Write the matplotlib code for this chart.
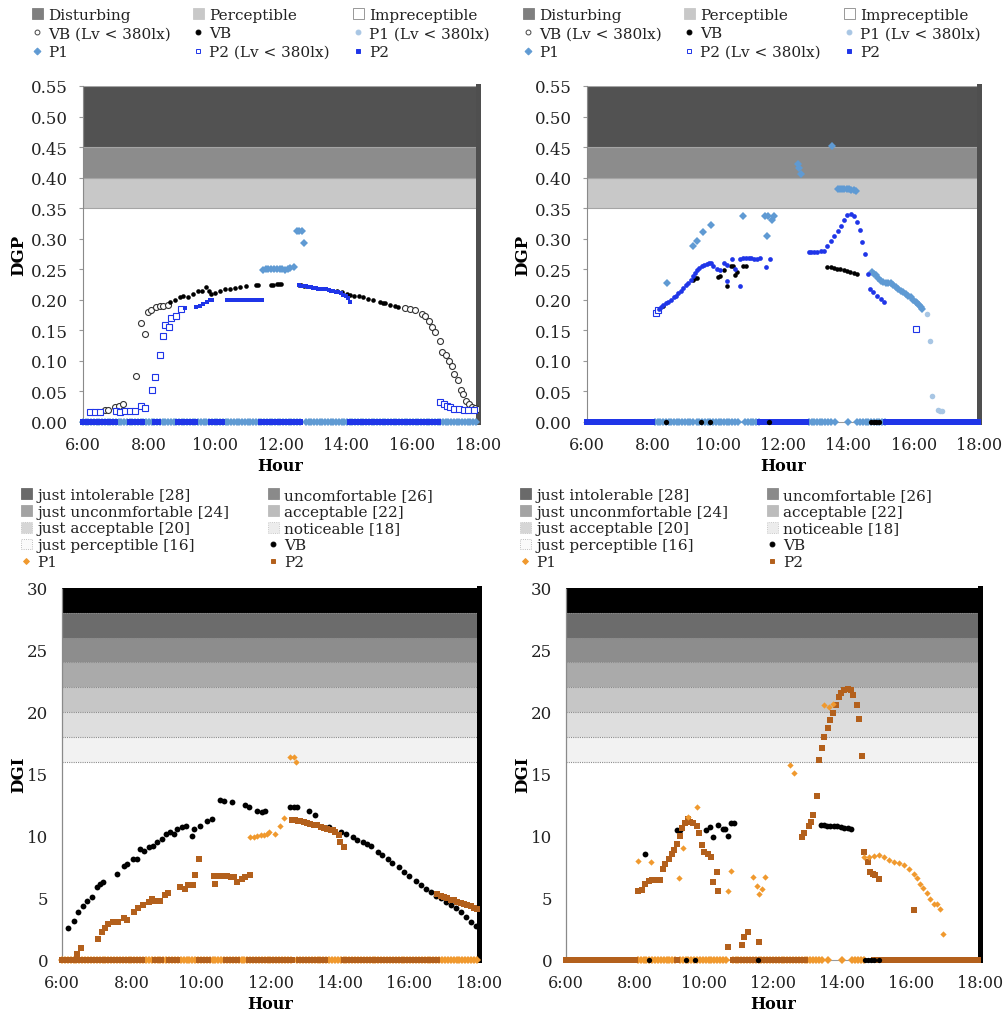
import numpy as np
import matplotlib
matplotlib.use('Agg')
import matplotlib.pyplot as plt
from matplotlib.patches import Patch
from matplotlib.lines import Line2D

plt.rcParams['font.family'] = ['DejaVu Serif']

# ---------------- common axis data ----------------
hour_ticks = [6, 8, 10, 12, 14, 16, 18]
hour_labels = ['6:00', '8:00', '10:00', '12:00', '14:00', '16:00', '18:00']
dgp_ticks = [0.00, 0.05, 0.10, 0.15, 0.20, 0.25, 0.30, 0.35, 0.40, 0.45, 0.50, 0.55]
dgi_ticks = [0, 5, 10, 15, 20, 25, 30]

dgp_band_lo = [0.35, 0.40, 0.45]
dgp_band_hi = [0.40, 0.45, 0.55]
dgi_band_lo = [16, 18, 20, 22, 24, 26, 28]
dgi_band_hi = [18, 20, 22, 24, 26, 28, 30]

# ---------------- DGP, left panel ----------------
tl_vb_dim_t = [6.66, 6.76, 6.96, 7.09, 7.22, 7.62, 7.77, 7.87, 7.98, 8.08, 8.23, 8.33, 8.43, 8.58,
               15.79, 15.94, 16.09, 16.30, 16.40, 16.50, 16.61, 16.69, 16.85, 16.92, 17.03, 17.13,
               17.20, 17.28, 17.38, 17.47, 17.54, 17.64, 17.74, 17.82, 17.90, 18.00]
tl_vb_dim_v = [0.019, 0.019, 0.025, 0.026, 0.030, 0.076, 0.162, 0.144, 0.180, 0.183, 0.188, 0.190, 0.190, 0.192,
               0.187, 0.185, 0.184, 0.177, 0.174, 0.166, 0.155, 0.147, 0.132, 0.114, 0.109, 0.100,
               0.092, 0.079, 0.068, 0.052, 0.046, 0.035, 0.030, 0.025, 0.023, 0.021]
tl_vb_t = [8.65, 8.79, 8.94, 9.04, 9.19, 9.34, 9.50, 9.60, 9.75, 9.83, 9.90, 10.00, 10.15, 10.31, 10.46,
           10.61, 10.76, 10.96, 11.27, 11.33, 11.72, 11.78, 11.88, 11.95, 12.03, 12.55, 12.62, 12.70,
           13.71, 13.86, 14.01, 14.10, 14.22, 14.37, 14.52, 14.67, 14.82, 15.02, 15.10, 15.18, 15.33,
           15.48, 15.58]
tl_vb_v = [0.196, 0.199, 0.204, 0.207, 0.204, 0.210, 0.214, 0.215, 0.221, 0.215, 0.210, 0.211, 0.215, 0.218, 0.218,
           0.220, 0.221, 0.222, 0.224, 0.224, 0.224, 0.225, 0.226, 0.226, 0.226, 0.224, 0.224, 0.223,
           0.215, 0.213, 0.210, 0.208, 0.207, 0.206, 0.205, 0.202, 0.200, 0.196, 0.195, 0.194, 0.192,
           0.190, 0.188]
tl_p1_t = [11.47, 11.55, 11.63, 11.72, 11.80, 11.88, 11.97, 12.05, 12.14, 12.22, 12.30, 12.40,
           12.50, 12.57, 12.65, 12.72]
tl_p1_v = [0.249, 0.250, 0.250, 0.250, 0.250, 0.250, 0.251, 0.250, 0.248, 0.250, 0.252, 0.254,
           0.312, 0.313, 0.313, 0.293]
tl_p2_dim_t = [6.20, 6.35, 6.51, 7.01, 7.12, 7.27, 7.42, 7.57, 7.77, 7.87, 8.11, 8.18, 8.35, 8.43,
               8.50, 8.61, 8.68, 8.84, 8.99, 16.85, 16.96, 17.06, 17.16, 17.26, 17.41, 17.56, 17.71, 17.87]
tl_p2_dim_v = [0.017, 0.017, 0.017, 0.018, 0.017, 0.018, 0.018, 0.018, 0.027, 0.023, 0.053, 0.074, 0.110, 0.140,
               0.158, 0.156, 0.171, 0.174, 0.185, 0.033, 0.030, 0.027, 0.024, 0.022, 0.021, 0.020, 0.020, 0.019]
tl_p2_t = [9.09, 9.44, 9.55, 9.65, 9.77, 9.87, 9.92,
           10.36, 10.44, 10.53, 10.61, 10.69, 10.78, 10.86, 10.94, 11.03, 11.11, 11.19, 11.28, 11.36, 11.44,
           12.55, 12.62, 12.70, 12.78, 12.85, 12.93, 13.00, 13.08, 13.15, 13.23, 13.30, 13.38, 13.46,
           13.53, 13.61, 13.68, 13.76, 13.84, 13.91, 13.98, 14.04, 14.11]
tl_p2_v = [0.186, 0.189, 0.190, 0.193, 0.196, 0.199, 0.200,
           0.200, 0.200, 0.200, 0.200, 0.200, 0.200, 0.200, 0.200, 0.200, 0.200, 0.200, 0.200, 0.200, 0.200,
           0.224, 0.223, 0.222, 0.222, 0.221, 0.221, 0.220, 0.219, 0.218, 0.218, 0.217, 0.217, 0.216,
           0.215, 0.214, 0.213, 0.212, 0.211, 0.208, 0.206, 0.203, 0.196]
tl_zero_p1 = [(6.0, 12.60), (12.77, 18.0)]
tl_zero_p2 = [(6.0, 6.46), (6.56, 7.01), (7.42, 7.52), (7.62, 7.82), (8.18, 8.33), (8.89, 9.04),
              (9.14, 9.39), (9.90, 10.31), (11.42, 12.60), (14.11, 16.85)]

# ---------------- DGP, right panel ----------------
tr_vb_t = [8.34, 9.24, 9.30, 9.36, 10.02, 10.07, 10.20, 10.28, 10.40, 10.46, 10.53, 10.60, 10.79, 10.87,
           13.36, 13.46, 13.56, 13.66, 13.76, 13.86, 13.96, 14.06, 14.16, 14.27]
tr_vb_v = [0.190, 0.233, 0.236, 0.236, 0.238, 0.239, 0.248, 0.223, 0.255, 0.255, 0.240, 0.246, 0.256, 0.256,
           0.254, 0.253, 0.252, 0.251, 0.250, 0.249, 0.247, 0.246, 0.244, 0.242]
tr_p1_t = [8.44, 9.26, 9.38, 9.54, 9.79, 10.79, 11.45, 11.52, 11.55, 11.65, 11.72, 12.45, 12.50, 12.55,
           13.51, 13.67, 13.74, 13.81, 13.88, 13.95, 14.02, 14.09, 14.16, 14.22,
           14.71, 14.78, 14.84, 14.92, 14.99, 15.07, 15.14, 15.22, 15.30, 15.37, 15.45, 15.52, 15.60,
           15.67, 15.75, 15.83, 15.91, 15.98, 16.06, 16.11, 16.16, 16.22, 16.27]
tr_p1_v = [0.227, 0.288, 0.297, 0.311, 0.322, 0.337, 0.337, 0.305, 0.337, 0.331, 0.337, 0.422, 0.415, 0.406,
           0.452, 0.381, 0.381, 0.382, 0.381, 0.381, 0.381, 0.380, 0.380, 0.378,
           0.245, 0.243, 0.240, 0.235, 0.231, 0.229, 0.228, 0.228, 0.227, 0.224, 0.221, 0.218, 0.215,
           0.212, 0.209, 0.207, 0.204, 0.200, 0.196, 0.194, 0.191, 0.188, 0.185]
tr_p1_dim_t = [16.42, 16.49, 16.57, 16.73, 16.80, 16.88]
tr_p1_dim_v = [0.176, 0.132, 0.042, 0.019, 0.018, 0.018]
tr_p2_dim_t = [8.12, 8.18, 16.08]
tr_p2_dim_v = [0.179, 0.183, 0.152]
tr_p2_t = [8.19, 8.27, 8.34, 8.42, 8.49, 8.57, 8.65, 8.72, 8.80, 8.88, 8.95, 9.03, 9.10, 9.17, 9.24,
           9.30, 9.36, 9.44, 9.51, 9.59, 9.67, 9.73, 9.79, 9.87, 9.97, 10.07, 10.20, 10.28, 10.30, 10.43,
           10.53, 10.68, 10.68, 10.79, 10.87, 10.95, 11.03, 11.11, 11.20, 11.30, 11.48, 11.60,
           12.79, 12.86, 12.95, 13.05, 13.15, 13.26, 13.36, 13.46, 13.56, 13.67, 13.77, 13.87, 13.97,
           14.08, 14.18, 14.26, 14.36, 14.43, 14.51, 14.61, 14.67, 14.77, 14.87, 14.99, 15.09]
tr_p2_v = [0.185, 0.188, 0.191, 0.194, 0.197, 0.200, 0.204, 0.207, 0.211, 0.215, 0.220, 0.224, 0.228, 0.233, 0.239,
           0.244, 0.248, 0.252, 0.256, 0.257, 0.259, 0.260, 0.260, 0.255, 0.250, 0.248, 0.261, 0.231, 0.257, 0.266,
           0.250, 0.223, 0.267, 0.268, 0.268, 0.268, 0.268, 0.267, 0.266, 0.268, 0.253, 0.266,
           0.279, 0.279, 0.279, 0.279, 0.280, 0.280, 0.288, 0.296, 0.304, 0.313, 0.321, 0.331, 0.339,
           0.340, 0.337, 0.328, 0.314, 0.295, 0.275, 0.242, 0.218, 0.212, 0.207, 0.201, 0.196]
tr_zero_p1 = [(8.08, 9.25), (9.36, 10.68), (10.84, 11.30), (12.79, 13.50), (13.60, 13.60),
              (14.00, 14.00), (14.28, 15.14)]
tr_zero_p2 = [(6.0, 8.05), (11.30, 12.79), (15.14, 18.0)]
tr_zero_vb = [(8.42, 8.42), (9.50, 9.50), (9.77, 9.77), (11.56, 11.56), (14.69, 14.94)]

# ---------------- DGI, left panel ----------------
bl_vb_t = [6.18, 6.35, 6.47, 6.61, 6.73, 6.85, 7.00, 7.08, 7.17, 7.58, 7.77, 7.86, 8.04, 8.15, 8.25,
           8.36, 8.49, 8.61, 8.73, 8.87, 9.00, 9.11, 9.21, 9.30, 9.45, 9.57, 9.74, 9.81, 9.96, 10.17,
           10.31, 10.55, 10.67, 10.89, 11.27, 11.37, 11.61, 11.75, 11.85, 12.57, 12.67, 12.76, 13.10,
           13.29, 13.69, 14.02, 14.17, 14.36, 14.50, 14.65, 14.79, 14.89, 15.08, 15.22, 15.37, 15.51,
           15.70, 15.85, 15.99, 16.18, 16.33, 16.47, 16.61, 16.76, 16.90, 17.05, 17.19, 17.34, 17.48,
           17.62, 17.77, 17.91]
bl_vb_v = [2.56, 3.17, 3.85, 4.39, 4.79, 5.06, 5.86, 6.13, 6.32, 6.94, 7.56, 7.75, 8.15, 8.15, 8.96,
           8.82, 9.09, 9.23, 9.50, 9.77, 10.17, 10.30, 10.17, 10.57, 10.71, 10.79, 10.04, 10.57, 10.84, 11.25,
           11.38, 12.94, 12.86, 12.78, 12.46, 12.32, 12.05, 11.92, 12.05, 12.32, 12.32, 12.32, 12.05,
           11.70, 10.71, 10.31, 10.17, 9.90, 9.69, 9.50, 9.37, 9.23, 8.69, 8.48, 8.16, 7.84,
           7.48, 7.13, 6.81, 6.41, 6.08, 5.73, 5.46, 5.19, 4.98, 4.71, 4.44, 4.17, 3.85,
           3.44, 3.10, 2.77]
bl_p1_t = [11.42, 11.52, 11.62, 11.72, 11.82, 11.90, 11.95, 12.14, 12.28, 12.40, 12.57, 12.67, 12.72]
bl_p1_v = [9.90, 9.95, 10.00, 10.05, 10.10, 10.17, 10.36, 10.17, 10.84, 11.43, 16.36, 16.36, 15.95]
bl_p2_t = [6.44, 6.55, 7.03, 7.14, 7.24, 7.33, 7.48, 7.62, 7.77, 7.88, 8.08, 8.20, 8.34, 8.49, 8.58,
           8.68, 8.82, 8.97, 9.06, 9.40, 9.54, 9.64, 9.78, 9.83, 9.93, 10.36, 10.41, 10.55, 10.65, 10.75,
           10.85, 10.94, 11.03, 11.18, 11.27, 11.40, 12.62, 12.70, 12.78, 12.86, 12.95, 13.05, 13.15,
           13.25, 13.35, 13.44, 13.54, 13.63, 13.73, 13.80, 13.87, 13.96, 14.01, 14.11, 16.80, 16.90,
           17.00, 17.09, 17.18, 17.28, 17.37, 17.47, 17.57, 17.66, 17.76, 17.86, 17.95]
bl_p2_v = [0.48, 0.94, 1.70, 2.29, 2.56, 2.90, 3.04, 3.04, 3.36, 3.26, 3.90, 4.17, 4.44, 4.71, 4.92,
           4.79, 4.79, 5.25, 5.41, 5.86, 5.73, 6.05, 6.05, 6.86, 8.15, 6.81, 6.13, 6.80, 6.78, 6.75,
           6.72, 6.67, 6.27, 6.54, 6.67, 6.86, 11.33, 11.28, 11.22, 11.17, 11.10, 11.05, 10.98,
           10.92, 10.85, 10.71, 10.65, 10.60, 10.52, 10.45, 10.36, 10.09, 9.50, 9.09, 5.33, 5.20,
           5.06, 4.97, 4.87, 4.80, 4.71, 4.62, 4.52, 4.43, 4.33, 4.22, 4.12]
bl_zero_p1 = [(6.0, 12.63), (12.77, 18.0)]
bl_zero_p2 = [(6.0, 6.43), (6.53, 6.96), (7.10, 7.54), (7.63, 7.78), (7.87, 8.07), (8.21, 8.35),
              (8.69, 8.88), (9.07, 9.36), (9.94, 10.27), (10.71, 11.09), (11.38, 12.63), (12.82, 13.59),
              (14.12, 16.81)]

# ---------------- DGI, right panel ----------------
br_vb_t = [8.29, 9.21, 9.29, 10.06, 10.17, 10.27, 10.40, 10.54, 10.62, 10.69, 10.78, 10.88,
           13.39, 13.48, 13.56, 13.66, 13.76, 13.86, 13.96, 14.06, 14.16, 14.26]
br_vb_v = [8.56, 10.45, 10.52, 10.52, 10.71, 9.90, 10.90, 10.57, 10.57, 9.97, 11.05, 11.05,
           10.90, 10.87, 10.84, 10.80, 10.84, 10.78, 10.72, 10.67, 10.62, 10.55]
br_p1_t = [8.10, 8.46, 9.27, 9.38, 9.53, 9.79, 10.69, 10.78, 11.43, 11.53, 11.58, 11.68, 11.77, 12.49,
           12.60, 13.49, 13.63, 13.73, 14.65, 14.79, 14.94, 15.08, 15.23, 15.37, 15.52, 15.66, 15.81,
           15.95, 16.10, 16.16, 16.26, 16.36, 16.45, 16.55, 16.68, 16.74, 16.84, 16.92]
br_p1_v = [7.98, 7.87, 6.60, 9.00, 11.50, 12.30, 5.60, 7.20, 6.73, 6.00, 5.33, 5.75, 6.67, 15.70,
           15.10, 20.58, 20.40, 20.66, 8.28, 8.28, 8.42, 8.47, 8.28, 8.10, 7.94, 7.84, 7.68,
           7.36, 6.96, 6.61, 6.16, 5.81, 5.43, 4.90, 4.55, 4.55, 4.10, 2.09]
br_p2_t = [8.08, 8.20, 8.30, 8.40, 8.49, 8.61, 8.72, 8.80, 8.88, 8.98, 9.07, 9.14, 9.21, 9.29, 9.36,
           9.46, 9.53, 9.59, 9.69, 9.79, 9.85, 9.94, 10.01, 10.11, 10.20, 10.27, 10.37, 10.42, 10.69,
           11.10, 11.17, 11.27, 11.58, 12.84, 12.91, 13.03, 13.10, 13.17, 13.27, 13.34, 13.42, 13.49,
           13.58, 13.65, 13.73, 13.83, 13.90, 13.97, 14.07, 14.16, 14.26, 14.33, 14.43, 14.50, 14.58,
           14.65, 14.74, 14.81, 14.89, 14.97, 15.08, 16.10]
br_p2_v = [5.60, 5.65, 6.13, 6.40, 6.48, 6.48, 6.48, 7.35, 7.75, 8.15, 8.55, 8.90, 9.36, 10.03, 10.62,
           11.05, 11.37, 11.10, 11.05, 10.78, 10.25, 9.31, 8.74, 8.55, 8.28, 6.32, 7.07, 5.60, 1.03,
           1.24, 1.83, 2.23, 1.43, 9.90, 10.25, 10.84, 11.16, 11.70, 13.20, 16.09, 17.08, 17.97,
           18.69, 19.37, 19.93, 20.58, 21.20, 21.55, 21.74, 21.82, 21.74, 21.39, 20.58, 19.45, 16.49,
           8.70, 7.90, 7.10, 6.96, 6.83, 6.56, 4.00]
br_zero_p1 = [(8.08, 9.22), (9.30, 10.66), (10.83, 13.45), (13.60, 13.60), (13.99, 13.99), (14.30, 14.70)]
br_zero_p2 = [(6.0, 8.08), (9.22, 9.30), (10.83, 11.46), (11.60, 12.96), (14.94, 18.0)]
br_zero_vb = [(8.42, 8.42), (9.48, 9.50), (9.73, 9.75), (11.56, 11.58), (14.67, 14.92), (15.08, 15.08)]

# ---------------- styles ----------------
BLUE = '#1f35e8'
LBLUE = '#5f9ad3'
LLBLUE = '#a8c6e4'
ORANGE = '#f0992e'
BROWN = '#b3601c'
dgp_band_colors = ['#c8c8c8', '#8c8c8c', '#525252']
dgi_band_colors = ['#f2f2f2', '#dedede', '#c6c6c6', '#aaaaaa', '#8d8d8d', '#6c6c6c', '#000000']

W, H = 1005, 1012


def axpos(x0, x1, y0, y1):
    return [x0 / W, 1 - y1 / H, (x1 - x0) / W, (y1 - y0) / H]


def zero_times(segments):
    out = []
    for a, b in segments:
        out.extend(np.arange(a, b + 1e-6, 1 / 12))
    return np.array(out)


def zero_row(ax, segments, **kw):
    t = zero_times(segments)
    ax.plot(t, np.zeros_like(t), ls='none', clip_on=False, zorder=3, **kw)


def common_x(ax):
    ax.set_xlim(6, 18)
    ax.set_xticks(hour_ticks)
    ax.set_xticklabels(hour_labels)
    ax.tick_params(axis='x', length=0, pad=10, labelsize=11.5, labelcolor='#222222')
    ax.set_xlabel('Hour', fontweight='bold', fontsize=11.5, labelpad=3)
    ax.spines['top'].set_visible(False)


def style_dgp(ax):
    common_x(ax)
    ax.set_ylim(0, 0.55)
    ax.set_yticks(dgp_ticks)
    ax.set_yticklabels(['%.2f' % v for v in dgp_ticks])
    ax.tick_params(axis='y', length=3, color='#999999', pad=8, labelsize=12, labelcolor='#222222')
    for lo, hi, c in zip(dgp_band_lo, dgp_band_hi, dgp_band_colors):
        ax.axhspan(lo, hi, facecolor=c, edgecolor='#a5a5a5', lw=0.8, zorder=0)
    ax.spines['right'].set_color('#4f4f4f')
    ax.spines['right'].set_linewidth(3.6)
    ax.spines['left'].set_color('#8a8a8a')
    ax.spines['left'].set_linewidth(0.8)
    ax.spines['bottom'].set_color('#9a9a9a')
    ax.set_ylabel('DGP', fontweight='bold', fontsize=12)
    ax.yaxis.set_label_coords(-0.142, 0.5)


def style_dgi(ax):
    common_x(ax)
    ax.set_ylim(0, 30)
    ax.set_yticks(dgi_ticks)
    ax.tick_params(axis='y', length=0, pad=10, labelsize=12, labelcolor='#222222')
    for lo, hi, c in zip(dgi_band_lo, dgi_band_hi, dgi_band_colors):
        ax.axhspan(lo, hi, facecolor=c, lw=0, zorder=0)
        ax.axhline(lo, color='#8a8a8a', lw=0.8, ls=(0, (1, 1)), zorder=0.5)
    ax.spines['right'].set_color('black')
    ax.spines['right'].set_linewidth(3.6)
    ax.spines['left'].set_color('#8a8a8a')
    ax.spines['left'].set_linewidth(0.9)
    ax.spines['left'].set_linestyle((0, (1, 1)))
    ax.spines['bottom'].set_color('#9a9a9a')
    ax.set_ylabel('DGI', fontweight='bold', fontsize=12)
    ax.yaxis.set_label_coords(-0.084, 0.5)


fig = plt.figure(figsize=(10.05, 10.12), dpi=100)
ax_tl = fig.add_axes(axpos(83, 478, 87, 423))
ax_tr = fig.add_axes(axpos(587, 979, 87, 423))
ax_bl = fig.add_axes(axpos(62, 479, 589, 961))
ax_br = fig.add_axes(axpos(566, 980, 589, 961))

# ---- DGP panels ----
style_dgp(ax_tl)
style_dgp(ax_tr)

zero_row(ax_tl, tl_zero_p1, marker='D', color=LBLUE, ms=3.8, mew=0)
zero_row(ax_tl, tl_zero_p2, marker='s', color=BLUE, ms=3.8, mew=0)
ax_tl.plot(tl_vb_dim_t, tl_vb_dim_v, 'o', mfc='white', mec='#333333', ms=4.3, mew=0.8, zorder=4)
ax_tl.plot(tl_vb_t, tl_vb_v, 'o', color='black', ms=3.3, mew=0, zorder=4)
ax_tl.plot(tl_p1_t, tl_p1_v, 'D', color=LBLUE, ms=3.8, mew=0, zorder=4)
ax_tl.plot(tl_p2_dim_t, tl_p2_dim_v, 's', mfc='white', mec=BLUE, ms=4.3, mew=0.8, zorder=4)
ax_tl.plot(tl_p2_t, tl_p2_v, 's', color=BLUE, ms=3.2, mew=0, zorder=4)

zero_row(ax_tr, tr_zero_p1, marker='D', color=LBLUE, ms=3.8, mew=0)
zero_row(ax_tr, tr_zero_p2, marker='s', color=BLUE, ms=3.8, mew=0)
zero_row(ax_tr, tr_zero_vb, marker='o', color='black', ms=3.8, mew=0)
ax_tr.plot(tr_vb_t, tr_vb_v, 'o', color='black', ms=3.3, mew=0, zorder=4)
ax_tr.plot(tr_p1_dim_t, tr_p1_dim_v, 'o', color=LLBLUE, ms=4.0, mew=0, zorder=4)
ax_tr.plot(tr_p1_t, tr_p1_v, 'D', color=LBLUE, ms=4.2, mew=0, zorder=4)
ax_tr.plot(tr_p2_dim_t, tr_p2_dim_v, 's', mfc='white', mec=BLUE, ms=4.3, mew=0.8, zorder=4)
ax_tr.plot(tr_p2_t, tr_p2_v, 'o', color=BLUE, ms=3.4, mew=0, zorder=4)

# ---- DGI panels ----
style_dgi(ax_bl)
style_dgi(ax_br)

zero_row(ax_bl, bl_zero_p1, marker='D', color=ORANGE, ms=3.6, mew=0)
zero_row(ax_bl, bl_zero_p2, marker='s', color=BROWN, ms=3.8, mew=0)
ax_bl.plot(bl_vb_t, bl_vb_v, 'o', color='black', ms=4.2, mew=0, zorder=4)
ax_bl.plot(bl_p1_t, bl_p1_v, 'D', color=ORANGE, ms=3.2, mew=0, zorder=4)
ax_bl.plot(bl_p2_t, bl_p2_v, 's', color=BROWN, ms=4.2, mew=0, zorder=4)

zero_row(ax_br, br_zero_p1, marker='D', color=ORANGE, ms=3.6, mew=0)
zero_row(ax_br, br_zero_p2, marker='s', color=BROWN, ms=3.8, mew=0)
zero_row(ax_br, br_zero_vb, marker='o', color='black', ms=3.8, mew=0)
ax_br.plot(br_vb_t, br_vb_v, 'o', color='black', ms=4.2, mew=0, zorder=4)
ax_br.plot(br_p2_t, br_p2_v, 's', color=BROWN, ms=4.6, mew=0, zorder=4)
ax_br.plot(br_p1_t, br_p1_v, 'D', color=ORANGE, ms=3.2, mew=0, zorder=5)

# ---------------- legends ----------------
def sq(c, ec=None, ls='-'):
    return Patch(facecolor=c, edgecolor=ec if ec else c, linestyle=ls, lw=0.6)


def mk(marker, fc, ec=None, ms=3.5):
    return Line2D([], [], ls='none', marker=marker, markerfacecolor=fc,
                  markeredgecolor=ec if ec else fc, ms=ms, mew=0.7)


dgp_cols = [
    [(sq('#7f7f7f'), 'Disturbing'), (mk('o', 'white', '#444444'), 'VB (Lv < 380lx)'), (mk('D', LBLUE), 'P1')],
    [(sq('#c8c8c8'), 'Perceptible'), (mk('o', 'black'), 'VB'), (mk('s', 'white', BLUE), 'P2 (Lv < 380lx)')],
    [(sq('white', '#888888'), 'Impreceptible'), (mk('o', LLBLUE), 'P1 (Lv < 380lx)'), (mk('s', BLUE), 'P2')],
]
dgi_cols = [
    [(sq('#6a6a6a'), 'just intolerable [28]'), (sq('#a3a3a3'), 'just unconmfortable [24]'),
     (sq('#d6d6d6', '#bbbbbb', ':'), 'just acceptable [20]'), (sq('#fafafa', '#aaaaaa', ':'), 'just perceptible [16]'),
     (mk('D', ORANGE, ms=3), 'P1')],
    [(sq('#8a8a8a'), 'uncomfortable [26]'), (sq('#bcbcbc'), 'acceptable [22]'),
     (sq('#ececec', '#bbbbbb', ':'), 'noticeable [18]'), (mk('o', 'black'), 'VB'),
     (mk('s', BROWN), 'P2')],
]


def add_col(items, x_px, y_px, spacing):
    h = [a for a, _ in items]
    l = [b for _, b in items]
    leg = fig.legend(h, l, loc='upper left', bbox_to_anchor=(x_px / W, 1 - y_px / H),
                     frameon=False, fontsize=11, handlelength=0.7, handleheight=0.7,
                     handletextpad=0.35, labelspacing=spacing, borderpad=0, borderaxespad=0)
    for t in leg.get_texts():
        t.set_color('#222222')
    return leg


for dx in (0, 491):
    for cx, col in zip((32, 193, 353), dgp_cols):
        add_col(col, cx + dx, 9, 0.29)
for dx in (0, 499):
    for cx, col in zip((21, 268), dgi_cols):
        add_col(col, cx + dx, 489, 0.18)

fig.savefig('out.png', dpi=100)
